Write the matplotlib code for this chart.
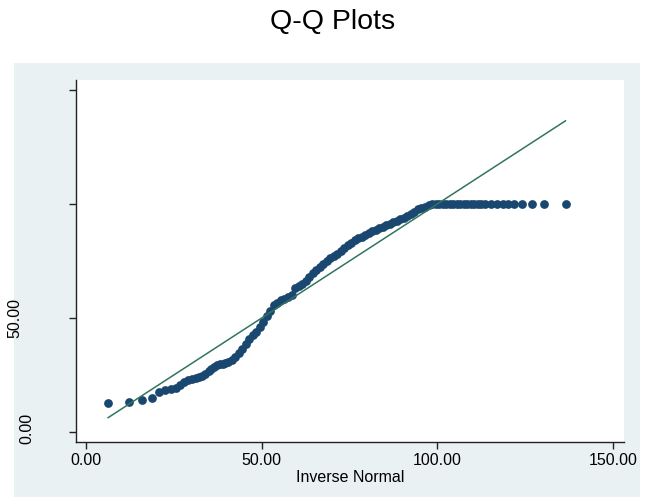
import matplotlib
matplotlib.use("Agg")
import matplotlib.pyplot as plt
from matplotlib.patches import Rectangle
from matplotlib.transforms import blended_transform_factory

plt.rcParams['font.family'] = ['Liberation Sans', 'DejaVu Sans']

# Inverse-normal quantiles (x) and ordered sample values (y)
inv_normal = [
    6.3, 12.2, 16.0, 18.8, 20.9, 22.6, 24.1, 25.5, 26.8, 28.0, 29.1, 30.2,
    31.2, 32.2, 33.1, 34.0, 34.9, 35.7, 36.5, 37.3, 38.1, 38.9, 39.7,
    40.5, 41.5, 42.5, 43.5, 44.5, 45.5, 46.5, 47.5, 48.5, 49.5, 50.5, 51.5,
    52.5, 53.5, 54.5, 55.5, 56.5, 57.5, 58.5, 59.5, 60.5, 61.5, 62.5, 63.5,
    64.5, 65.5, 66.5, 67.5, 68.5, 69.5, 70.5, 71.5, 72.5, 73.5, 74.5, 75.5,
    76.5, 77.5, 78.5, 79.5, 80.5, 81.5, 82.5, 83.5, 84.5, 85.5, 86.5, 87.5,
    88.5, 89.5, 90.5, 91.5, 92.5, 93.5, 94.5, 95.5, 96.5, 97.5, 98.5, 99.5,
    100.5, 101.5, 102.5, 103.5, 104.5, 105.5, 106.5, 107.5, 108.5, 109.5,
    110.5, 111.5, 112.5, 113.5, 115.2, 116.9, 118.6, 120.2, 121.9, 124.2,
    126.9, 130.5, 136.5,
]
sample = [
    12.6, 13.3, 13.9, 14.8, 17.4, 18.6, 19.0, 19.5, 20.5, 21.8, 22.6, 23.2,
    23.7, 24.0, 24.5, 25.6, 26.7, 27.7, 28.6, 29.4, 29.8, 30.0, 30.3,
    30.7, 31.6, 33.0, 34.7, 36.2, 38.5, 40.9, 42.4, 44.0, 45.9, 48.2, 51.0,
    53.1, 55.7, 56.7, 57.7, 58.4, 59.0, 60.3, 63.0, 63.9, 64.8, 66.4, 68.2,
    69.9, 71.1, 72.4, 73.7, 74.9, 76.2, 77.2, 78.2, 79.4, 80.7, 82.0, 83.1,
    84.0, 84.9, 85.7, 86.5, 87.2, 88.0, 88.7, 89.4, 90.1, 90.7, 91.4, 92.1,
    92.7, 93.4, 94.0, 94.7, 95.5, 96.5, 97.6, 98.4, 98.9, 99.4, 99.8, 100.0,
    100.0, 100.0, 100.0, 100.0, 100.0, 100.0, 100.0, 100.0, 100.0, 100.0,
    100.0, 100.0, 100.0, 100.0, 100.0, 100.0, 100.0, 100.0, 100.0, 100.0,
    100.0, 100.0, 100.0,
]

x_ticks = [0, 50, 100, 150]
x_tick_labels = ["0.00", "50.00", "100.00", "150.00"]
y_ticks = [0, 50, 100, 150]

W, H = 654, 497
fig = plt.figure(figsize=(W / 100, H / 100), dpi=100)
fig.patch.set_facecolor("white")

# Graph region panel, drawn beneath the axes
fig.patches.append(Rectangle((14 / W, 0), (640 - 14) / W, (H - 63) / H,
                             transform=fig.transFigure, facecolor="#E9F1F3",
                             edgecolor="none", zorder=-1))

ax = fig.add_axes([76 / W, 1 - 442 / H, (624 - 76) / W, (442 - 80) / H])
ax.set_zorder(1)
ax.set_facecolor("white")

ax.plot(inv_normal, sample, linestyle="none", marker="o", markersize=6.3,
        markerfacecolor="#1A476F", markeredgewidth=0, zorder=2)

lo, hi = min(inv_normal), max(inv_normal)
ax.plot([lo, hi], [lo, hi], color="#32745F", linewidth=1.1, zorder=3)

ax.set_xlim(-2.85, 153.15)
ax.set_ylim(-4.39, 154.4)

for s in ("top", "right"):
    ax.spines[s].set_visible(False)
for s in ("left", "bottom"):
    ax.spines[s].set_color("#222222")
    ax.spines[s].set_linewidth(1.0)

ax.set_xticks(x_ticks)
ax.set_xticklabels(x_tick_labels, fontsize=11.5)
ax.set_yticks(y_ticks)
ax.set_yticklabels([])
ax.tick_params(axis="both", direction="out", length=5, width=1.0,
               color="#222222", pad=3)

ax.set_xlabel("Inverse Normal", fontsize=11.5, labelpad=1)

# Vertical value labels on the y axis
trans = blended_transform_factory(fig.transFigure, ax.transData)
fig.text(15 / W, 50, "50.00", rotation=90, fontsize=11.5, ha="center",
         va="center", transform=trans, zorder=2)
fig.text(27 / W, 1.5, "0.00", rotation=90, fontsize=11.5, ha="center",
         va="center", transform=trans, zorder=2)

fig.text(333 / W, 1 - 22 / H, "Q-Q Plots", fontsize=20.5, ha="center",
         va="center")

fig.savefig("out.png", dpi=100)
